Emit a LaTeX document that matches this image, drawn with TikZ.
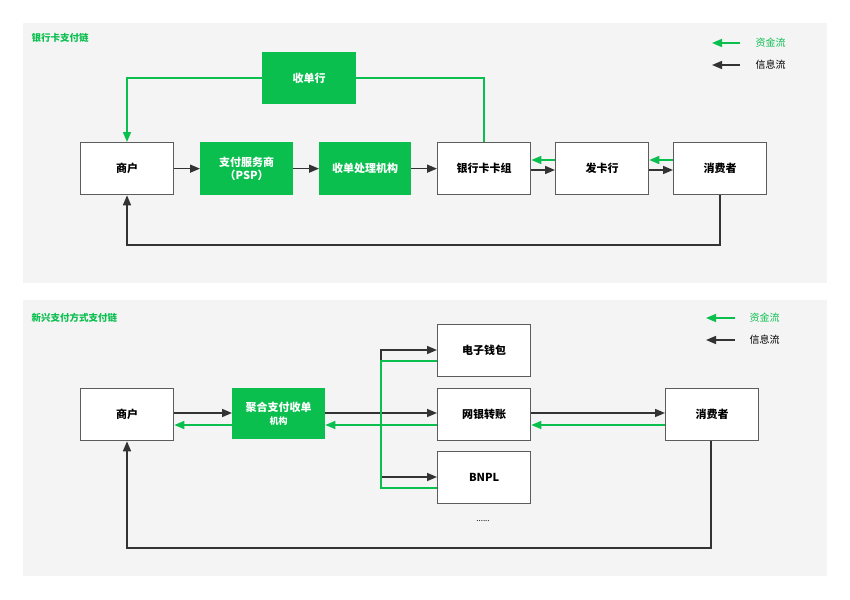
\documentclass[tikz,border=0pt]{standalone}
\usepackage{fontspec}
\setmainfont{Noto Sans CJK SC}
\usetikzlibrary{arrows.meta}
\definecolor{gr}{HTML}{0BBF4F}
\definecolor{dk}{HTML}{333333}
\definecolor{bg}{HTML}{F4F4F4}
\begin{document}
\begin{tikzpicture}[x=1pt,y=-1pt,
 box/.style={draw=dk!80,line width=1.3pt,fill=white,minimum width=93pt,minimum height=52pt,inner sep=0pt,font=\fontsize{11}{13.5}\selectfont\bfseries,align=center,anchor=north west},
 gbox/.style={box,fill=gr,draw=gr,text=white},
 ar/.style={line width=1.5pt,-{Triangle[length=10pt,width=8pt]}},
 ka/.style={ar,draw=dk,color=dk},
 ga/.style={ar,draw=gr,color=gr},
 ttl/.style={font=\fontsize{9.5}{11}\selectfont\bfseries,text=gr,anchor=west},
 lg/.style={font=\fontsize{10}{12}\selectfont,anchor=west}]
\useasboundingbox (0,0) rectangle (850,599);
\fill[white] (0,0) rectangle (850,599);
\fill[bg] (23,23) rectangle (827,283);
\fill[bg] (23,300) rectangle (827,576);
% top
\node[ttl] (t1) at (28,38) {银行卡支付链};
\coordinate (l1a) at (740,43); \coordinate (l1b) at (712,43);
\draw[ga] (l1a) -- (l1b);
\node[lg,text=gr] (l1t) at (752,43) {资金流};
\coordinate (l2a) at (740,65); \coordinate (l2b) at (712,65);
\draw[ka] (l2a) -- (l2b);
\node[lg] (l2t) at (752,65) {信息流};
\node[box] (m1) at (80,142) {商户};
\node[gbox,minimum width=92pt] (psp) at (200,142) {支付服务商\\（PSP）};
\node[gbox,minimum width=91pt] (sc) at (319,142) {收单处理机构};
\node[box] (bk) at (437,142) {银行卡卡组};
\node[box] (fk) at (555,142) {发卡行};
\node[box] (c1) at (673,142) {消费者};
\node[gbox,minimum height=51pt] (sd) at (262,52) {收单行};
\draw[ka] (m1.east) -- (psp.west);
\draw[ka] (psp.east) -- (sc.west);
\draw[ka] (sc.east) -- (bk.west);
\draw[ka] (bk.east |- 0,170) -- (fk.west |- 0,170);
\draw[ga] (fk.west |- 0,160) -- (bk.east |- 0,160);
\draw[ka] (fk.east |- 0,170) -- (c1.west |- 0,170);
\draw[ga] (c1.west |- 0,160) -- (fk.east |- 0,160);
\draw[line width=1.5pt,gr] (bk.north -| 484,0) |- (sd.east);
\draw[ga] (sd.west) -| (m1.north -| 127,0);
\draw[ka] (c1.south -| 720,0) |- (127,245) -- (m1.south -| 127,0);
% bottom
\node[ttl] (t2) at (28,318) {新兴支付方式支付链};
\coordinate (l3a) at (735,318); \coordinate (l3b) at (706,318);
\draw[ga] (l3a) -- (l3b);
\node[lg,text=gr] (l3t) at (746,318) {资金流};
\coordinate (l4a) at (735,340); \coordinate (l4b) at (706,340);
\draw[ka] (l4a) -- (l4b);
\node[lg] (l4t) at (746,340) {信息流};
\node[box] (m2) at (80,388) {商户};
\node[gbox,minimum width=92pt,minimum height=50pt] (jh) at (232,388) {聚合支付收单\\{\fontsize{9}{11}\selectfont 机构}};
\node[box] (dz) at (437,324) {电子钱包};
\node[box] (wy) at (437,388) {网银转账};
\node[box] (bn) at (437,451) {BNPL};
\node[box] (c2) at (665,388) {消费者};
\node (dots) at (483,521) {\fontsize{8}{10}\selectfont ......};
\draw[ka] (m2.east |- 0,413) -- (jh.west |- 0,413);
\draw[ga] (jh.west |- 0,425) -- (m2.east |- 0,425);
\draw[ka] (jh.east |- 0,413) -- (wy.west |- 0,413);
\draw[ga] (wy.west |- 0,425) -- (jh.east |- 0,425);
\draw[ka] (381,360) |- (dz.west |- 0,350);
\draw[ka] (381,470) |- (bn.west |- 0,477);
\draw[line width=1.5pt,gr] (dz.west |- 0,361) -| (381,488) -- (bn.west |- 0,488);
\draw[ka] (wy.east |- 0,413) -- (c2.west |- 0,413);
\draw[ga] (c2.west |- 0,425) -- (wy.east |- 0,425);
\draw[ka] (c2.south -| 711,0) |- (127,548) -- (m2.south -| 127,0);
\end{tikzpicture}
\end{document}
